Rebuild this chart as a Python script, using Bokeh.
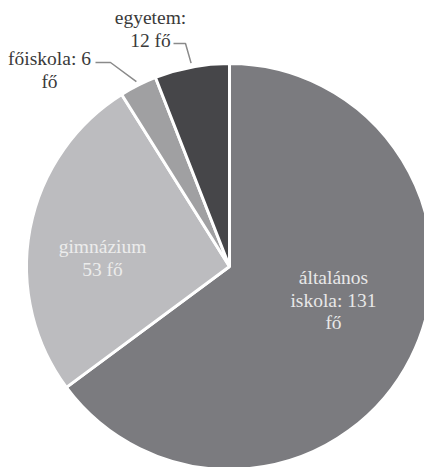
import math
from bokeh.plotting import figure
from bokeh.models import Range1d
from bokeh.core.properties import value
from bokeh.embed import file_html
from bokeh.resources import INLINE

# data
categories = ["általános iskola", "gimnázium", "főiskola", "egyetem"]
counts = [131, 53, 6, 12]
label_lines = [["általános", "iskola: 131", "fő"], ["gimnázium", "53 fő"],
               ["főiskola: 6", "fő"], ["egyetem:", "12 fő"]]
colors = ["#7b7b7f", "#bcbcbf", "#a0a0a2", "#464649"]
label_colors = ["#e8e8e8", "#ececec", "#3a3a3a", "#3a3a3a"]

W, H = 424, 467
p = figure(width=W, height=H, output_backend="svg", toolbar_location=None,
           x_range=Range1d(0, W), y_range=Range1d(0, H), min_border=0)
p.axis.visible = False
p.grid.visible = False
p.outline_line_color = None
p.background_fill_color = "white"

cx, cy, R = 229, 201, 203
total = sum(counts)
starts, ends, mids = [], [], []
acc = 0
for v in counts:
    a0 = math.pi / 2 - 2 * math.pi * acc / total
    acc += v
    a1 = math.pi / 2 - 2 * math.pi * acc / total
    starts.append(a0)
    ends.append(a1)
    mids.append((a0 + a1) / 2)

p.wedge(x=[cx] * 4, y=[cy] * 4, radius=R, start_angle=starts, end_angle=ends,
        direction="clock", fill_color=colors, line_color="white", line_width=3)

FONT = value("Liberation Serif")
LH = 22.5

# label block centres (layout)
label_pos = [(333, 167.5), (102, 209.5), (49, 397.5), (150, 438.5)]
for i, (lx, ly) in enumerate(label_pos):
    lines = label_lines[i]
    n = len(lines)
    ys = [ly + (n - 1) / 2 * LH - k * LH for k in range(n)]
    p.text(x=[lx] * n, y=ys, text=lines, text_font=FONT,
           text_font_size="19.5px", text_color=label_colors[i], text_align="center",
           text_baseline="middle")

# leader lines for small slices
elbows = {2: [(95, 405), (110, 405)], 3: [(173, 424), (185, 424)]}
for i, pts in elbows.items():
    ex = cx + (R + 4) * math.cos(mids[i])
    ey = cy + (R + 4) * math.sin(mids[i])
    xs = [pts[0][0], pts[1][0], ex]
    ys = [pts[0][1], pts[1][1], ey]
    p.line(xs, ys, line_color="#8a8a8a", line_width=1.5)

open("out.html", "w").write(file_html(p, INLINE))
